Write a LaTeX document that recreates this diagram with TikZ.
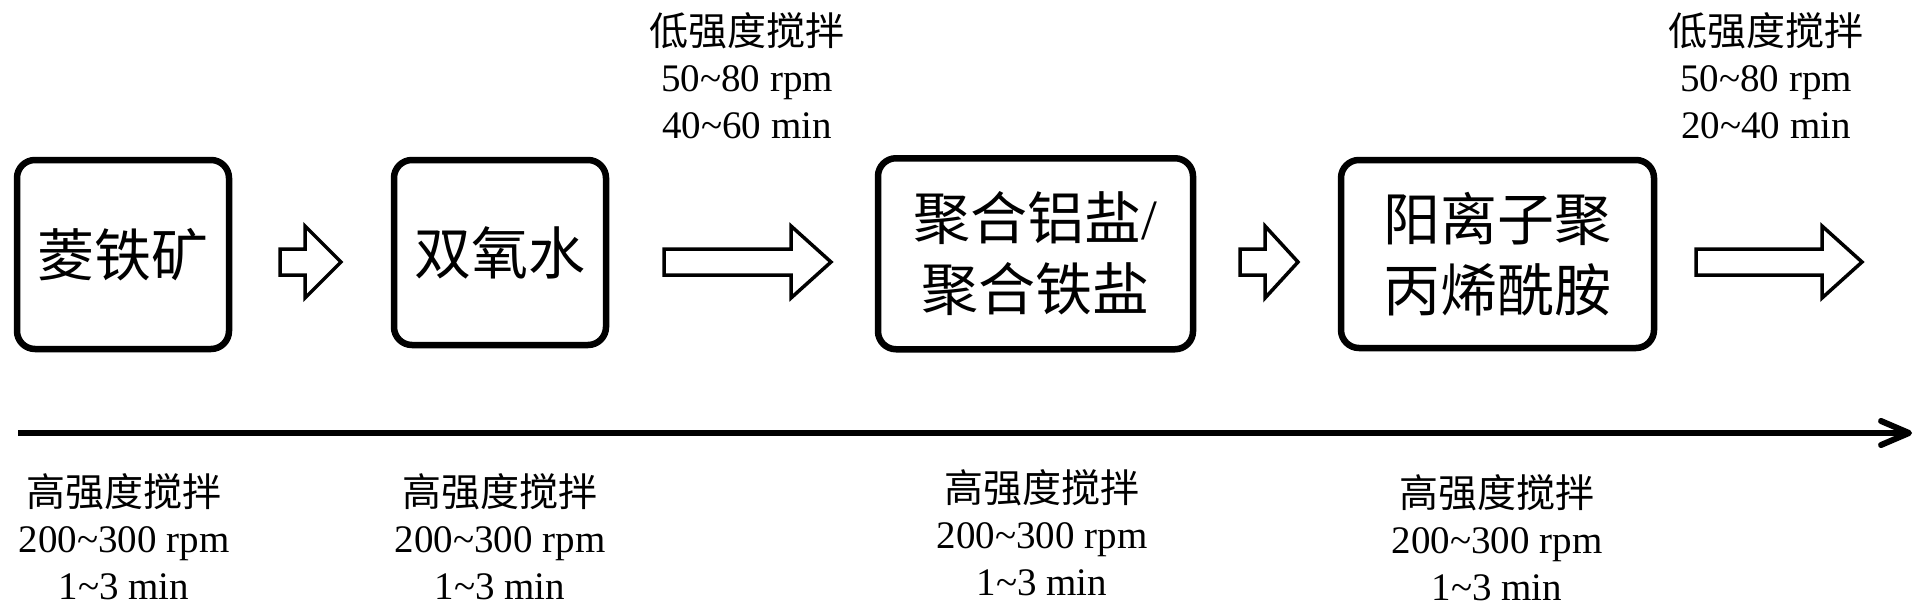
\documentclass[tikz,border=0pt]{standalone}
\usepackage{fontspec}
\setmainfont{Liberation Serif}
\newfontfamily\cjk{Noto Sans CJK SC}
\usetikzlibrary{arrows.meta}
\tikzset{
  boxnode/.style={draw, line width=6.5pt, rounded corners=18pt, inner sep=0pt,
    align=center, font=\cjk\fontsize{57}{71}\selectfont},
  blockarrow/.style={draw, line width=3.5pt, line join=miter, fill=white},
  lbl/.style={inner sep=0pt, anchor=base, font=\fontsize{39}{46}\selectfont},
  timeline/.style={line width=6pt, -{Straight Barb[length=28pt,width=24pt,round]}}
}
\newcommand\steplabel[6]{%
  \node[lbl] (#1-a) at (#2,#3) {\cjk #4};
  \node[lbl] (#1-b) at (#2,#3+46.5) {#5};
  \node[lbl] (#1-c) at (#2,#3+93) {#6};
}
\newcommand\blockarr[3]{%
  \draw[blockarrow] (#1,249) -- (#2,249) -- (#2,226) -- (#3,262) -- (#2,298)
    -- (#2,275) -- (#1,275) -- cycle;
}
\begin{document}
\begin{tikzpicture}[x=1pt,y=-1pt]
  \useasboundingbox (0,0) rectangle (1926,613);
  % boxes
  \node[boxnode, minimum width=212pt, minimum height=189pt] (b1) at (123,254.5) {菱铁矿};
  \node[boxnode, minimum width=212pt, minimum height=185pt] (b2) at (500,252.5) {双氧水};
  \node[boxnode, minimum width=315pt, minimum height=191pt] (b3) at (1035.5,253.75)
    {聚合铝盐{\rmfamily /}\\聚合铁盐};
  \node[boxnode, minimum width=313pt, minimum height=188pt] (b4) at (1497.5,254)
    {阳离子聚\\丙烯酰胺};
  % block arrows
  \blockarr{280}{305}{341}
  \blockarr{664}{791}{831}
  \blockarr{1240}{1265}{1298}
  \blockarr{1696}{1822}{1862}
  % top labels
  \steplabel{t1}{747}{45}{低强度搅拌}{50\textasciitilde80 rpm}{40\textasciitilde60 min}
  \steplabel{t2}{1766}{45}{低强度搅拌}{50\textasciitilde80 rpm}{20\textasciitilde40 min}
  % timeline
  \coordinate (tl0) at (18,433);
  \coordinate (tl1) at (1912,433);
  \draw[timeline] (tl0) -- (tl1);
  % bottom labels
  \steplabel{l1}{124}{506}{高强度搅拌}{200\textasciitilde300 rpm}{1\textasciitilde3 min}
  \steplabel{l2}{500}{506}{高强度搅拌}{200\textasciitilde300 rpm}{1\textasciitilde3 min}
  \steplabel{l3}{1042}{502}{高强度搅拌}{200\textasciitilde300 rpm}{1\textasciitilde3 min}
  \steplabel{l4}{1497}{507}{高强度搅拌}{200\textasciitilde300 rpm}{1\textasciitilde3 min}
\end{tikzpicture}
\end{document}
